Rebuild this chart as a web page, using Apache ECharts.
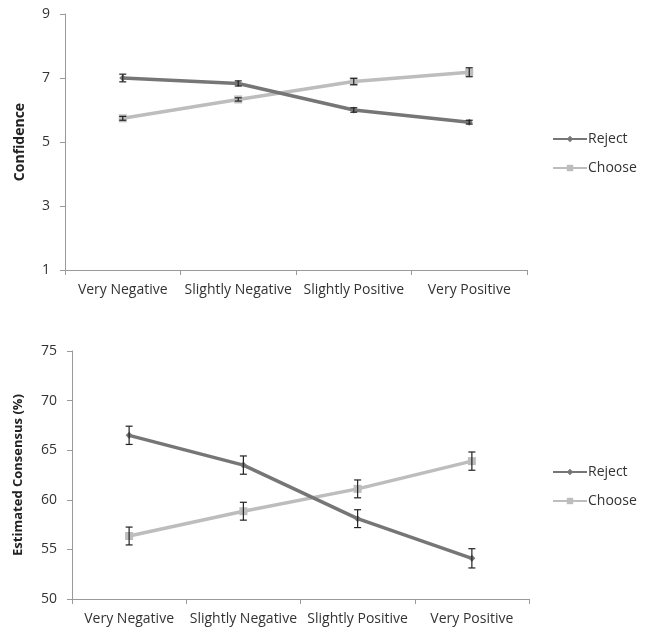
<!DOCTYPE html>
<html>
<head>
<meta charset="utf-8">
<script src="https://cdn.jsdelivr.net/npm/echarts@6/dist/echarts.min.js"></script>
<style>
html,body{margin:0;padding:0;background:#fff;}
#c{width:646px;height:632px;}
</style>
</head>
<body>
<div id="c"></div>
<script>
const categories = ['Very Negative', 'Slightly Negative', 'Slightly Positive', 'Very Positive'];
const seriesNames = ['Reject', 'Choose'];

const confidenceTicks = [1, 3, 5, 7, 9];
const confReject = [7.0, 6.83, 6.0, 5.62];
const confRejectErr = [0.12, 0.08, 0.07, 0.06];
const confChoose = [5.74, 6.33, 6.89, 7.18];
const confChooseErr = [0.06, 0.05, 0.1, 0.14];

const consensusTicks = [50, 55, 60, 65, 70, 75];
const consReject = [66.5, 63.5, 58.1, 54.1];
const consRejectErr = [0.92, 0.92, 0.9, 0.97];
const consChoose = [56.35, 58.85, 61.1, 63.9];
const consChooseErr = [0.9, 0.9, 0.9, 0.92];

const FONT = "'Open Sans', 'Liberation Sans', sans-serif";
const REJECT_COLOR = '#767676';
const CHOOSE_COLOR = '#bdbdbd';
const AXIS_COLOR = '#9a9a9a';
const TEXT_COLOR = '#333333';

function errData(vals, errs) {
  return vals.map((v, i) => [i, v - errs[i], v + errs[i]]);
}

function errRender(params, api) {
  const x = api.value(0);
  const lo = api.coord([x, api.value(1)]);
  const hi = api.coord([x, api.value(2)]);
  const hw = 3.5;
  const style = { stroke: '#222', lineWidth: 1.2 };
  return {
    type: 'group',
    children: [
      { type: 'line', shape: { x1: lo[0], y1: lo[1], x2: hi[0], y2: hi[1] }, style },
      { type: 'line', shape: { x1: lo[0] - hw, y1: lo[1], x2: lo[0] + hw, y2: lo[1] }, style },
      { type: 'line', shape: { x1: hi[0] - hw, y1: hi[1], x2: hi[0] + hw, y2: hi[1] }, style }
    ]
  };
}

function xAxisCfg(gridIndex) {
  return {
    type: 'category', gridIndex, data: categories, boundaryGap: true,
    axisLine: { lineStyle: { color: AXIS_COLOR, width: 1 } },
    axisTick: { show: true, alignWithLabel: false, length: 5, inside: false, lineStyle: { color: AXIS_COLOR } },
    axisLabel: { color: TEXT_COLOR, fontSize: 14, fontFamily: FONT, margin: 13, interval: 0 },
    splitLine: { show: false }
  };
}

function yAxisCfg(gridIndex, ticks, name, nameGap, nameSize) {
  return {
    type: 'value', gridIndex,
    min: ticks[0], max: ticks[ticks.length - 1], interval: ticks[1] - ticks[0],
    name, nameLocation: 'middle', nameGap, nameRotate: 90,
    nameTextStyle: { fontWeight: 'bold', fontSize: nameSize, color: '#222', fontFamily: FONT },
    axisLine: { show: true, lineStyle: { color: AXIS_COLOR, width: 1 } },
    axisTick: { show: true, length: 5, lineStyle: { color: AXIS_COLOR } },
    axisLabel: { color: TEXT_COLOR, fontSize: 14, fontFamily: FONT, margin: 15 },
    splitLine: { show: false }
  };
}

function lineSeries(name, data, idx, color, symbol, size) {
  return {
    type: 'line', name, data, xAxisIndex: idx, yAxisIndex: idx,
    symbol, symbolSize: size,
    lineStyle: { color, width: 3.5 },
    itemStyle: { color },
    emphasis: { disabled: true },
    z: name === 'Reject' ? 3 : 2
  };
}

function errSeries(name, vals, errs, idx) {
  return {
    type: 'custom', name: name + ' err', xAxisIndex: idx, yAxisIndex: idx,
    data: errData(vals, errs), renderItem: errRender, z: 4, silent: true
  };
}

function legendCfg(top) {
  return {
    orient: 'vertical', left: 547, top,
    data: seriesNames, itemWidth: 34, itemHeight: 8, itemGap: 15,
    textStyle: { color: TEXT_COLOR, fontSize: 14, fontFamily: FONT, padding: [0, 0, 0, -4] },
    selectedMode: false
  };
}

const chart = echarts.init(document.getElementById('c'), null, { renderer: 'canvas' });
chart.setOption({
  animation: false,
  backgroundColor: '#ffffff',
  grid: [
    { left: 65, top: 14, width: 462, height: 256 },
    { left: 72, top: 351, width: 457, height: 248 }
  ],
  legend: [legendCfg(127), legendCfg(460)],
  xAxis: [xAxisCfg(0), xAxisCfg(1)],
  yAxis: [
    yAxisCfg(0, confidenceTicks, 'Confidence', 38, 14),
    yAxisCfg(1, consensusTicks, 'Estimated Consensus (%)', 47, 13)
  ],
  series: [
    lineSeries('Reject', confReject, 0, REJECT_COLOR, 'diamond', 7),
    lineSeries('Choose', confChoose, 0, CHOOSE_COLOR, 'rect', 8),
    errSeries('Reject', confReject, confRejectErr, 0),
    errSeries('Choose', confChoose, confChooseErr, 0),
    lineSeries('Reject', consReject, 1, REJECT_COLOR, 'diamond', 7),
    lineSeries('Choose', consChoose, 1, CHOOSE_COLOR, 'rect', 8),
    errSeries('Reject', consReject, consRejectErr, 1),
    errSeries('Choose', consChoose, consChooseErr, 1)
  ]
});
</script>
</body>
</html>
